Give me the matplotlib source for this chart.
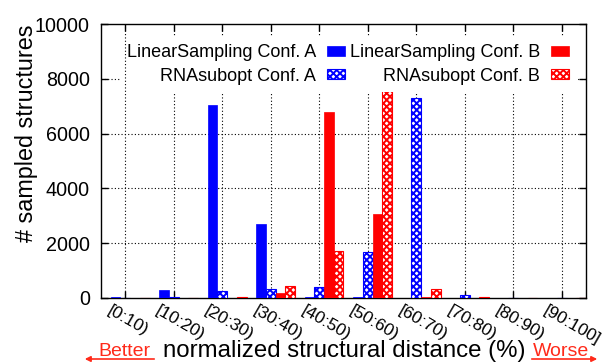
import numpy as np
import matplotlib
matplotlib.use('Agg')
import matplotlib.pyplot as plt
import matplotlib.transforms as mtrans

plt.rcParams['font.family'] = ['Liberation Sans', 'DejaVu Sans']
plt.rcParams['hatch.linewidth'] = 1.4

# distance bins
bins = ['[0:10)', '[10:20)', '[20:30)', '[30:40)', '[40:50)',
        '[50:60)', '[60:70)', '[70:80)', '[80:90)', '[90:100]']
# counts
ls_conf_a = [15, 280, 7030, 2690, 25, 15, 0, 0, 0, 0]
rna_conf_a = [0, 20, 245, 318, 380, 1657, 7315, 90, 0, 0]
ls_conf_b = [0, 0, 0, 160, 6778, 3066, 20, 0, 0, 0]
rna_conf_b = [0, 0, 30, 438, 1716, 7545, 306, 10, 0, 0]

series = [
    ('LinearSampling Conf. A', ls_conf_a, '#0000ff', False),
    ('RNAsubopt Conf. A', rna_conf_a, '#0000ff', True),
    ('LinearSampling Conf. B', ls_conf_b, '#ff0000', False),
    ('RNAsubopt Conf. B', rna_conf_b, '#ff0000', True),
]

fig = plt.figure(figsize=(6.08, 3.62), dpi=100)
ax = fig.add_axes([101 / 608, 1 - 297.7 / 362, 485 / 608, 273.4 / 362])

x = np.arange(len(bins))
w = 0.2
for k, (name, vals, col, hatched) in enumerate(series):
    pos = x + (k - 1.5) * w + w / 2
    if hatched:
        ax.bar(pos, vals, width=w, facecolor='white', edgecolor=col,
               hatch='xxxxx', linewidth=0.8, label=name, zorder=3)
    else:
        ax.bar(pos, vals, width=w, color=col, edgecolor=col,
               linewidth=0.5, label=name, zorder=3)

ax.set_xlim(-0.5, len(bins) - 0.5)
ax.set_ylim(0, 10000)
ax.set_yticks(range(0, 10001, 2000))
ax.set_xticks(x)
ax.set_xticklabels([])

# rotated bin labels, shifted left of the tick like gnuplot does
off = mtrans.ScaledTranslation(-13 / 100, -5 / 100, fig.dpi_scale_trans)
for i, lab in zip(x, bins):
    ax.text(i, 0, lab, transform=ax.get_xaxis_transform() + off,
            rotation=-30, rotation_mode='anchor', ha='left', va='top',
            fontsize=12.5, clip_on=False)

ax.tick_params(direction='in', length=5, width=1, top=True, right=True)
ax.tick_params(axis='y', labelsize=14.2, pad=8)
for s in ax.spines.values():
    s.set_linewidth(1.0)

# dotted grid
for v in range(2000, 10000, 2000):
    ax.axhline(v, color='black', linestyle=(0, (1, 2)), linewidth=0.8, zorder=1)
for i in x:
    ax.axvline(i, color='black', linestyle=(0, (1, 2)), linewidth=0.8,
               zorder=6 if i == 0 else 1)

leg = ax.legend(ncol=2, markerfirst=False, fontsize=13, loc='upper right',
                bbox_to_anchor=(576 / 608, 1 - 37 / 362),
                bbox_transform=fig.transFigure, borderaxespad=0,
                frameon=True, fancybox=False, framealpha=1,
                edgecolor='none', facecolor='white',
                handlelength=1.0, handleheight=0.45, handletextpad=0.6,
                columnspacing=0.25, labelspacing=0.35, borderpad=0.4)
leg.set_zorder(5)

fig.text(27 / 608, 1 - 133 / 362, '# sampled structures', rotation=90,
         ha='center', va='center', fontsize=16.8)
fig.text(344 / 608, 1 - 356.5 / 362, 'normalized structural distance (%)',
         ha='center', va='baseline', fontsize=17.3)

red = '#ff2a1a'
fig.text(124 / 608, 1 - 355.5 / 362, 'Better', ha='center', va='baseline',
         fontsize=14, color=red)
fig.text(561 / 608, 1 - 355.5 / 362, 'Worse', ha='center', va='baseline',
         fontsize=14, color=red)
fig.add_artist(matplotlib.patches.FancyArrowPatch(
    (157 / 608, 1 - 359 / 362), (82 / 608, 1 - 359 / 362),
    transform=fig.transFigure, arrowstyle='-|>', mutation_scale=8,
    color=red, linewidth=1.2))
fig.add_artist(matplotlib.patches.FancyArrowPatch(
    (529 / 608, 1 - 359 / 362), (600 / 608, 1 - 359 / 362),
    transform=fig.transFigure, arrowstyle='-|>', mutation_scale=8,
    color=red, linewidth=1.2))

fig.savefig('out.png', dpi=100)
